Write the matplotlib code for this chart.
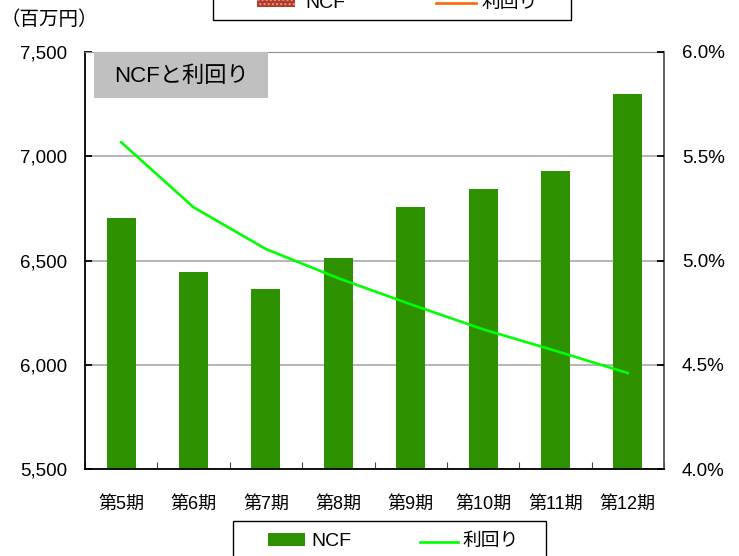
import matplotlib
matplotlib.use('Agg')
import matplotlib.pyplot as plt
from matplotlib.patches import Rectangle
from matplotlib.lines import Line2D
from matplotlib.ticker import FuncFormatter

plt.rcParams['font.family'] = ['Liberation Sans', 'Noto Sans CJK JP']

# data
periods = ['第5期', '第6期', '第7期', '第8期', '第9期', '第10期', '第11期', '第12期']
ncf = [6705, 6446, 6364, 6513, 6756, 6843, 6930, 7297]
yield_pct = [5.567, 5.255, 5.055, 4.915, 4.79, 4.67, 4.567, 4.46]

bar_color = '#2d9100'
line_color = '#00ff00'

W, H = 739, 556
fig = plt.figure(figsize=(W / 100, H / 100), dpi=100)

def fx(px):
    return px / W

def fy(py):
    return 1 - py / H

ax = fig.add_axes([fx(85), fy(469), fx(664 - 85), (469 - 52) / H])
x = list(range(len(periods)))
ax.bar(x, ncf, width=0.4, color=bar_color, zorder=2)
ax.set_xlim(-0.5, len(periods) - 0.5)
ax.set_ylim(5500, 7500)
ax.set_yticks([5500, 6000, 6500, 7000, 7500])
ax.yaxis.set_major_formatter(FuncFormatter(lambda v, p: f'{int(v):,}'))
ax.grid(axis='y', color='#b0b0b0', linewidth=1.3, zorder=0)
ax.set_xticks([i - 0.5 for i in range(len(periods) + 1)], minor=False)
ax.set_xticklabels([])
ax.set_xticks(x, minor=True)
ax.set_xticklabels(periods, minor=True)
ax.tick_params(axis='x', which='major', direction='in', length=5, color='#444444')
ax.tick_params(axis='x', which='minor', length=0, pad=19, labelsize=13)
ax.tick_params(axis='y', direction='in', length=5, width=1.3, labelsize=13.5, pad=13)

ax.spines['left'].set_color('black')
ax.spines['left'].set_linewidth(1.3)
ax.spines['bottom'].set_color('black')
ax.spines['bottom'].set_linewidth(1.3)
ax.spines['top'].set_color('#909090')
ax.spines['right'].set_color('#555555')
ax.spines['right'].set_linewidth(1.3)

ax2 = ax.twinx()
ax2.plot(x, yield_pct, color=line_color, linewidth=1.9, zorder=3)
ax2.set_ylim(4.0, 6.0)
ax2.set_yticks([4.0, 4.5, 5.0, 5.5, 6.0])
ax2.yaxis.set_major_formatter(FuncFormatter(lambda v, p: f'{v:.1f}%'))
ax2.tick_params(axis='y', direction='in', length=5, width=1.3, labelsize=13.5, pad=13)
for s in ax2.spines.values():
    s.set_visible(False)

# title box
fig.patches.append(Rectangle((fx(94), fy(98)), fx(268 - 94), (98 - 52) / H,
                             transform=fig.transFigure, facecolor='#c0c0c0',
                             edgecolor='none', zorder=5))
fig.text(fx(181), fy(76), 'NCFと利回り', ha='center', va='center', fontsize=16, zorder=6)

# unit label
fig.text(fx(0), fy(20), '（百万円）', ha='left', va='center', fontsize=14)

# cut-off legend at the top
fig.patches.append(Rectangle((fx(213), fy(20)), fx(571 - 213), 40 / H,
                             transform=fig.transFigure, facecolor='white',
                             edgecolor='black', linewidth=1.0))
fig.patches.append(Rectangle((fx(257), fy(7)), fx(295 - 257), 17 / H,
                             transform=fig.transFigure, facecolor='#b23a2a',
                             edgecolor='#e89a8a', hatch='....', linewidth=0))
fig.add_artist(Line2D([fx(436), fx(476)], [fy(3), fy(3)], color='#ff6600', linewidth=1.9))
fig.text(fx(305), fy(3.5), 'NCF', ha='left', va='center', fontsize=14)
fig.text(fx(481), fy(3.5), '利回り', ha='left', va='center', fontsize=13.5)

# bottom legend
fig.patches.append(Rectangle((fx(233), fy(570)), fx(546 - 233), (570 - 521) / H,
                             transform=fig.transFigure, facecolor='white',
                             edgecolor='black', linewidth=1.0))
fig.patches.append(Rectangle((fx(268), fy(546)), fx(305 - 268), (546 - 533) / H,
                             transform=fig.transFigure, facecolor=bar_color,
                             edgecolor='none'))
fig.add_artist(Line2D([fx(420), fx(458)], [fy(542), fy(542)], color=line_color, linewidth=1.9))
fig.text(fx(311), fy(541), 'NCF', ha='left', va='center', fontsize=14)
fig.text(fx(462), fy(541), '利回り', ha='left', va='center', fontsize=13.5)

fig.savefig('out.png', dpi=100)
